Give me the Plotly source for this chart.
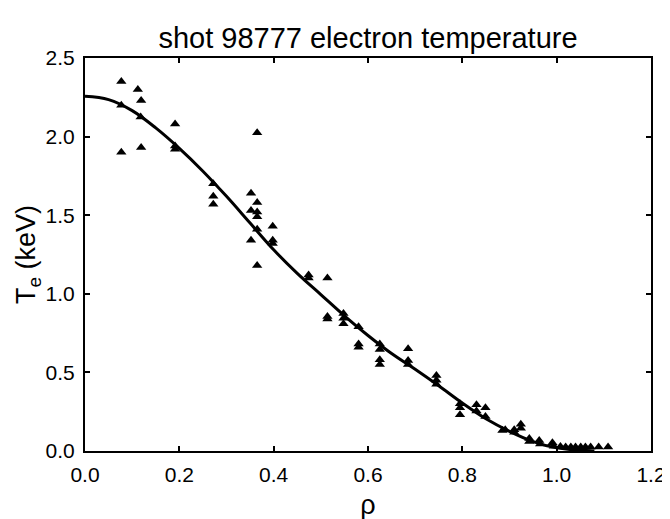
import plotly.graph_objects as go

# measured points
rho_pts = [0.077, 0.112, 0.119, 0.077, 0.118, 0.191, 0.077, 0.119, 0.191, 0.191,
           0.365, 0.272, 0.272, 0.272, 0.352, 0.365, 0.352, 0.365, 0.365, 0.365,
           0.398, 0.352, 0.398, 0.398, 0.365, 0.474, 0.474, 0.514, 0.514, 0.514,
           0.548, 0.548, 0.548, 0.580, 0.580, 0.580, 0.625, 0.625, 0.625, 0.625,
           0.685, 0.685, 0.685, 0.745, 0.745, 0.745, 0.795, 0.795, 0.795, 0.830,
           0.830, 0.849, 0.849, 0.885, 0.891, 0.910, 0.910, 0.924, 0.924, 0.942,
           0.942, 0.963, 0.965, 0.991, 0.994, 1.008, 1.019, 1.030, 1.040, 1.051,
           1.061, 1.072, 1.089, 1.109]
te_pts = [2.35, 2.30, 2.23, 2.20, 2.125, 2.08, 1.90, 1.93, 1.92, 1.94,
          2.025, 1.70, 1.62, 1.57, 1.64, 1.58, 1.53, 1.52, 1.49, 1.41,
          1.43, 1.34, 1.34, 1.32, 1.18, 1.12, 1.10, 1.10, 0.855, 0.84,
          0.875, 0.845, 0.81, 0.79, 0.68, 0.66, 0.68, 0.645, 0.58, 0.55,
          0.65, 0.575, 0.55, 0.48, 0.45, 0.425, 0.30, 0.275, 0.23, 0.295,
          0.255, 0.275, 0.22, 0.13, 0.135, 0.135, 0.12, 0.17, 0.145, 0.08,
          0.06, 0.067, 0.045, 0.052, 0.03, 0.028, 0.025, 0.025, 0.025, 0.025,
          0.025, 0.025, 0.025, 0.025]

# fitted profile
rho_fit = [0.00, 0.05, 0.10, 0.15, 0.20, 0.25, 0.30, 0.35, 0.40, 0.45, 0.50,
           0.55, 0.60, 0.65, 0.70, 0.75, 0.80, 0.85, 0.90, 0.95, 1.00, 1.05, 1.08]
te_fit = [2.256, 2.235, 2.165, 2.055, 1.925, 1.78, 1.62, 1.45, 1.28, 1.13, 0.995,
          0.86, 0.735, 0.62, 0.52, 0.415, 0.305, 0.205, 0.125, 0.06, 0.02, 0.004, 0.0]

x_ticks = [0.0, 0.2, 0.4, 0.6, 0.8, 1.0, 1.2]
y_ticks = [0.0, 0.5, 1.0, 1.5, 2.0, 2.5]

font = "Liberation Sans, Arial, Helvetica, sans-serif"

fig = go.Figure()
fig.add_trace(go.Scatter(x=rho_fit, y=te_fit, mode="lines",
                         line=dict(color="black", width=3, shape="spline", smoothing=1.0),
                         showlegend=False))
fig.add_trace(go.Scatter(x=rho_pts, y=te_pts, mode="markers",
                         marker=dict(symbol="triangle-up", size=9, color="black"),
                         cliponaxis=False, showlegend=False))

axis_common = dict(showline=True, linecolor="black", linewidth=2, mirror="ticks",
                   ticks="inside", ticklen=5, tickwidth=2, tickcolor="black",
                   showgrid=False, zeroline=False,
                   tickfont=dict(family=font, size=21, color="black"),
                   tickformat=".1f")

fig.update_xaxes(range=[0, 1.2], tickvals=x_ticks, ticklabelstandoff=4, **axis_common,
                 title=dict(text="ρ", font=dict(family=font, size=27, color="black"),
                            standoff=10))
fig.update_yaxes(range=[0, 2.5], tickvals=y_ticks, ticklabelstandoff=4, **axis_common,
                 title=dict(text="T<sub>e</sub> (keV)",
                            font=dict(family=font, size=27, color="black"),
                            standoff=2))

fig.update_layout(
    width=670, height=519,
    margin=dict(l=77, r=24, t=50, b=69),
    paper_bgcolor="white", plot_bgcolor="white",
    title=dict(text="shot 98777 electron temperature", x=0.5, xref="paper",
               y=0.942, yref="container", yanchor="middle",
               font=dict(family=font, size=29, color="black")),
)

fig.write_html("out.html")
